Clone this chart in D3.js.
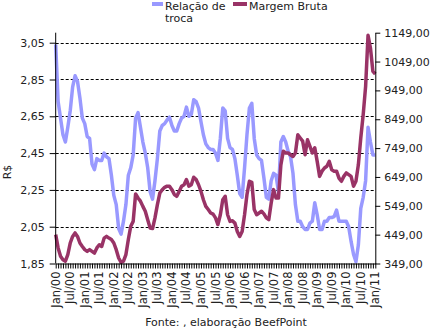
<!DOCTYPE html>
<html>
<head>
<meta charset="utf-8">
<script src="https://cdn.jsdelivr.net/npm/d3@7"></script>
<style>
  html, body { margin: 0; padding: 0; background: #fff; }
  svg { display: block; font-family: "DejaVu Sans", Verdana, sans-serif; }
</style>
</head>
<body>
<svg id="chart" width="430" height="329"></svg>
<script>
// ---- Data (monthly, Jan/00 .. Jan/11) ----
const tickLabels = ["Jan/00","Jul/00","Jan/01","Jul/01","Jan/02","Jul/02","Jan/03","Jul/03","Jan/04","Jul/04","Jan/05","Jul/05","Jan/06","Jul/06","Jan/07","Jul/07","Jan/08","Jul/08","Jan/09","Jul/09","Jan/10","Jul/10","Jan/11"];
const seriesNames = ["Relação de troca", "Margem Bruta"];
const relacaoTroca = [
  3.04,2.73,2.64,2.55,2.51,2.59,2.68,2.81,2.87,2.84,2.75,2.64,
  2.61,2.54,2.53,2.39,2.36,2.42,2.41,2.41,2.45,2.43,2.42,2.33,
  2.22,2.17,2.04,2.01,2.08,2.17,2.33,2.37,2.44,2.64,2.67,2.59,
  2.51,2.45,2.37,2.24,2.20,2.30,2.42,2.57,2.60,2.61,2.63,2.645,
  2.60,2.57,2.57,2.61,2.64,2.65,2.70,2.65,2.66,2.74,2.73,2.695,
  2.62,2.55,2.50,2.48,2.47,2.47,2.45,2.41,2.53,2.695,2.68,2.53,
  2.48,2.47,2.42,2.33,2.23,2.21,2.37,2.55,2.695,2.72,2.53,2.44,
  2.42,2.41,2.315,2.21,2.20,2.30,2.34,2.33,2.24,2.51,2.54,2.51,
  2.46,2.43,2.34,2.17,2.08,2.08,2.05,2.035,2.035,2.07,2.08,2.18,
  2.115,2.035,2.035,2.08,2.08,2.10,2.10,2.105,2.14,2.08,2.08,2.08,
  2.08,2.05,1.97,1.90,1.86,1.95,2.15,2.21,2.30,2.59,2.51,2.44,
  2.44
];
const margemBruta = [
  449,403,374,362,357,380,420,443,455,443,420,408,
  397,391,397,391,385,403,414,408,437,443,437,432,
  420,397,368,353,357,380,432,478,495,590,576,565,
  547,530,501,472,470,507,553,593,605,613,617,617,
  605,588,582,599,617,622,640,617,622,648,640,622,
  599,570,547,536,524,520,507,484,518,570,582,518,
  495,497,489,460,443,460,518,588,634,630,536,518,
  524,530,521,507,501,559,605,576,576,691,738,732,
  732,726,720,732,795,784,773,726,778,755,732,750,
  703,651,669,680,686,703,674,669,669,645,634,651,
  663,657,651,617,634,691,784,865,963,1140,1096,1015,
  1006
];
const leftTicks = [1.85, 2.05, 2.25, 2.45, 2.65, 2.85, 3.05];
const rightTicks = [349, 449, 549, 649, 749, 849, 949, 1049, 1149];
const colors = ["#9999FF", "#993366"];

// ---- Layout ----
const svg = d3.select("#chart");
const pL = 55.7, pR = 375.3, pT = 32.7, pB = 263.5;

const x = d3.scaleLinear().domain([0, 132]).range([pL, pR]);
const yL = d3.scaleLinear().domain([1.85, 3.05]).range([pB, 42.7]);
const yR = d3.scaleLinear().domain([349, 1149]).range([pB, pT]);

const fmt2 = v => d3.format(".2f")(v).replace(".", ",");

// gridlines
svg.append("g")
  .selectAll("line")
  .data(leftTicks.slice(1))
  .join("line")
  .attr("x1", pL).attr("x2", pR)
  .attr("y1", d => Math.round(yL(d)) + 0.5).attr("y2", d => Math.round(yL(d)) + 0.5)
  .attr("stroke", "#000").attr("stroke-width", 1)
  .attr("stroke-dasharray", "3,2");

// lines
const lineL = d3.line().x((d, i) => x(i)).y(d => yL(d));
const lineR = d3.line().x((d, i) => x(i)).y(d => yR(d));

svg.append("path").datum(relacaoTroca)
  .attr("d", lineL).attr("fill", "none")
  .attr("stroke", colors[0]).attr("stroke-width", 3.5)
  .attr("stroke-linejoin", "round");
svg.append("path").datum(margemBruta)
  .attr("d", lineR).attr("fill", "none")
  .attr("stroke", colors[1]).attr("stroke-width", 3.5)
  .attr("stroke-linejoin", "round");

// left axis
const gL = svg.append("g").attr("transform", `translate(${pL},0)`)
  .call(d3.axisLeft(yL).tickValues(leftTicks).tickFormat(fmt2).tickSize(6).tickPadding(5).tickSizeOuter(0));
gL.select(".domain").attr("d", `M0,${pT}V${pB}`);

// right axis
const gR = svg.append("g").attr("transform", `translate(${pR},0)`)
  .call(d3.axisRight(yR).tickValues(rightTicks).tickFormat(fmt2).tickSize(5).tickPadding(4).tickSizeOuter(0));

// bottom axis
const gB = svg.append("g").attr("transform", `translate(0,${pB})`)
  .call(d3.axisBottom(x).tickValues(d3.range(0, 133)).tickSize(5).tickFormat("").tickSizeOuter(0));
svg.append("g").attr("transform", `translate(0,${pB})`)
  .selectAll("text")
  .data(tickLabels)
  .join("text")
  .attr("transform", (d, i) => `translate(${x(i * 6)},8) rotate(-90)`)
  .attr("text-anchor", "end")
  .attr("dy", "0.35em")
  .attr("font-size", 11.5)
  .attr("fill", "#222")
  .text(d => d);

[gL, gR, gB].forEach(g => {
  g.selectAll("text").attr("font-size", 11).attr("fill", "#222").attr("font-family", '"DejaVu Sans", Verdana, sans-serif');
  g.selectAll("line").attr("stroke", "#000");
  g.select(".domain").attr("stroke", "#000");
});

// y title
svg.append("text")
  .attr("transform", "translate(11,172) rotate(-90)")
  .attr("text-anchor", "middle")
  .attr("font-size", 11).attr("fill", "#222")
  .text("R$");

// legend
const lg = svg.append("g");
lg.append("rect").attr("x", 152).attr("y", 2).attr("width", 11).attr("height", 4).attr("fill", colors[0]);
lg.append("text").attr("x", 165).attr("y", 10).attr("font-size", 11).attr("fill", "#222").text("Relação de");
lg.append("text").attr("x", 165).attr("y", 22).attr("font-size", 11).attr("fill", "#222").text("troca");
lg.append("rect").attr("x", 233).attr("y", 2).attr("width", 14).attr("height", 4).attr("fill", colors[1]);
lg.append("text").attr("x", 249).attr("y", 10).attr("font-size", 11).attr("fill", "#222").text(seriesNames[1]);

// source
svg.append("text")
  .attr("x", 226).attr("y", 326)
  .attr("text-anchor", "middle")
  .attr("font-size", 11).attr("fill", "#222")
  .text("Fonte: , elaboração BeefPoint");
</script>
</body>
</html>
